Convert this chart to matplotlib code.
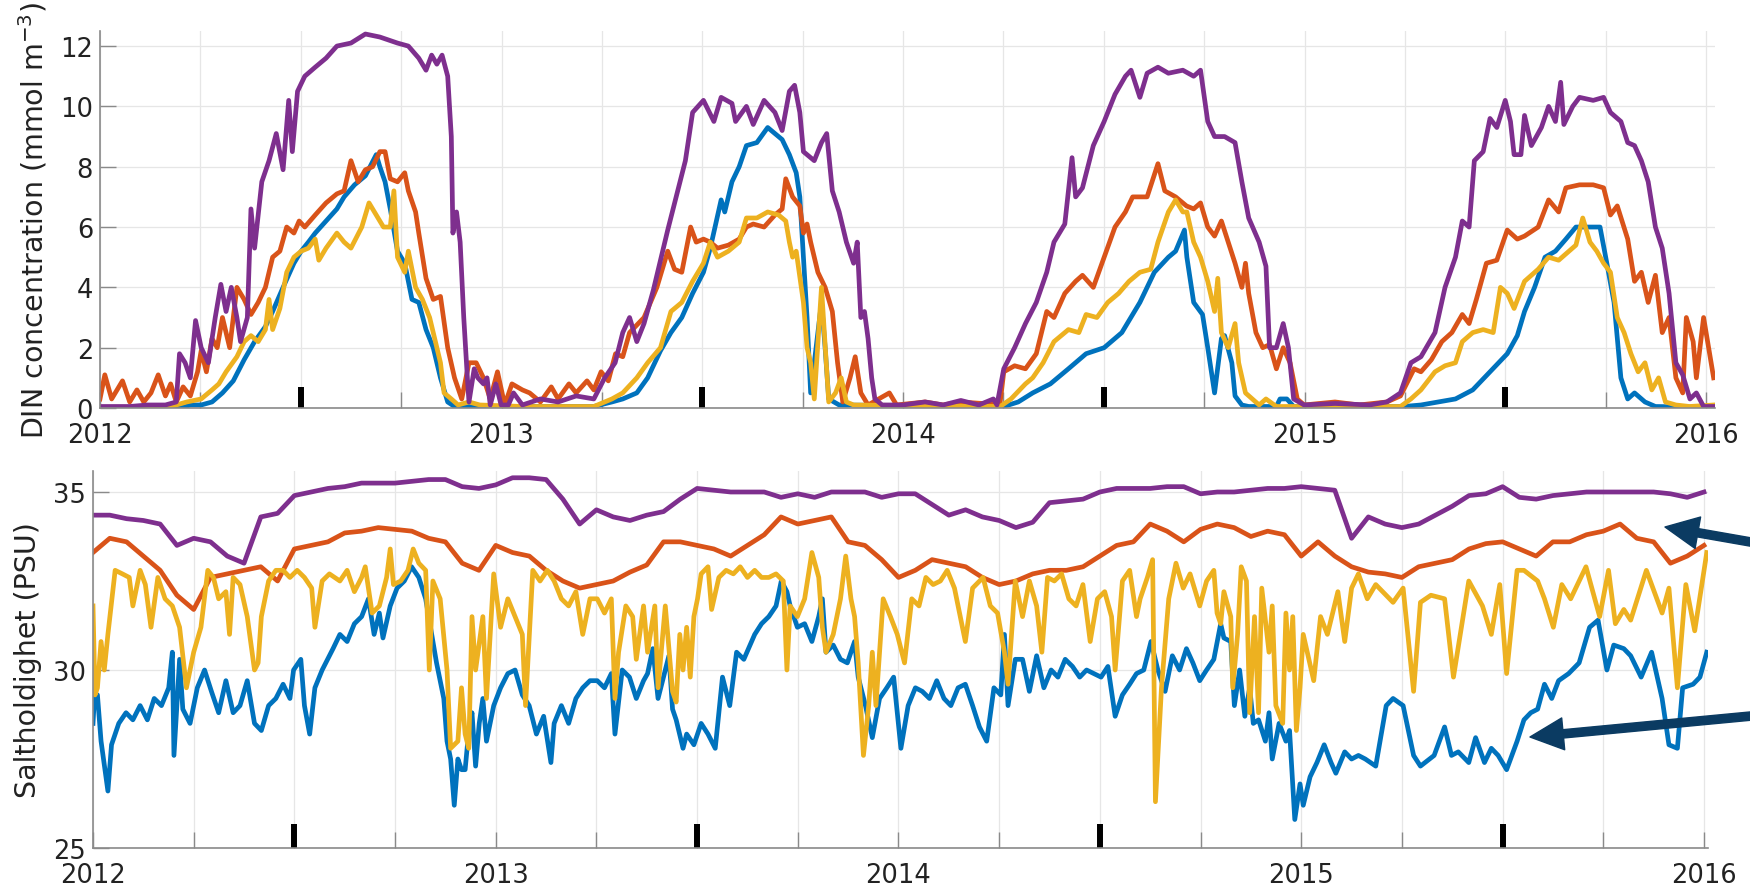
import numpy as np
import matplotlib
matplotlib.use("Agg")
import matplotlib.pyplot as plt

# ---- top panel: DIN concentration (mmol m-3), (decimal year, value) ----
din_blue = [
    (2012.000, 0.0), (2012.207, 0.02), (2012.225, 0.1), (2012.252, 0.1), (2012.279, 0.2),
    (2012.305, 0.5), (2012.332, 0.9), (2012.359, 1.6), (2012.385, 2.2), (2012.412, 2.7),
    (2012.430, 3.2), (2012.456, 4.0), (2012.483, 4.8), (2012.501, 5.2), (2012.519, 5.5),
    (2012.536, 5.8), (2012.563, 6.2), (2012.590, 6.6), (2012.608, 7.0), (2012.634, 7.4),
    (2012.661, 7.7), (2012.688, 8.4), (2012.697, 8.0), (2012.710, 7.5), (2012.723, 6.6),
    (2012.741, 5.2), (2012.759, 4.8), (2012.777, 3.6), (2012.794, 3.5), (2012.812, 2.6),
    (2012.830, 2.0), (2012.848, 1.0), (2012.866, 0.2), (2012.883, 0.05), (2013.230, 0.05),
    (2013.275, 0.2), (2013.302, 0.3), (2013.337, 0.5), (2013.364, 1.0), (2013.396, 1.9),
    (2013.422, 2.5), (2013.449, 3.0), (2013.476, 3.8), (2013.503, 4.5), (2013.520, 5.3),
    (2013.547, 6.9), (2013.556, 6.5), (2013.574, 7.5), (2013.592, 8.0), (2013.610, 8.7),
    (2013.636, 8.8), (2013.663, 9.3), (2013.681, 9.1), (2013.699, 8.9), (2013.717, 8.4),
    (2013.734, 7.8), (2013.743, 7.0), (2013.752, 5.0), (2013.761, 3.0), (2013.770, 0.5),
    (2013.788, 2.5), (2013.797, 3.5), (2013.806, 2.0), (2013.815, 0.3), (2013.841, 0.1),
    (2014.251, 0.05), (2014.287, 0.2), (2014.323, 0.5), (2014.367, 0.8), (2014.412, 1.3),
    (2014.456, 1.8), (2014.501, 2.0), (2014.545, 2.5), (2014.590, 3.5), (2014.626, 4.5),
    (2014.661, 5.0), (2014.679, 5.2), (2014.701, 5.9), (2014.707, 5.0), (2014.724, 3.5),
    (2014.746, 3.1), (2014.759, 2.0), (2014.776, 0.5), (2014.793, 2.3), (2014.801, 2.4),
    (2014.819, 1.5), (2014.827, 0.4), (2014.844, 0.1), (2014.861, 0.05), (2014.930, 0.05),
    (2014.939, 0.3), (2014.956, 0.3), (2014.973, 0.05), (2015.247, 0.05), (2015.290, 0.1),
    (2015.333, 0.2), (2015.376, 0.3), (2015.419, 0.6), (2015.462, 1.2), (2015.505, 1.8),
    (2015.530, 2.4), (2015.548, 3.2), (2015.573, 4.0), (2015.599, 5.0), (2015.625, 5.2),
    (2015.651, 5.6), (2015.676, 6.0), (2015.702, 6.0), (2015.736, 6.0), (2015.753, 4.8),
    (2015.771, 3.5), (2015.788, 1.0), (2015.805, 0.3), (2015.822, 0.5), (2015.848, 0.2),
    (2015.874, 0.05), (2016.019, 0.02)]
din_orange = [
    (2012.000, 0.3), (2012.012, 1.1), (2012.029, 0.3), (2012.056, 0.9), (2012.074, 0.2),
    (2012.092, 0.6), (2012.109, 0.2), (2012.127, 0.5), (2012.145, 1.1), (2012.163, 0.4),
    (2012.176, 0.8), (2012.190, 0.2), (2012.207, 0.7), (2012.225, 0.4), (2012.243, 1.2),
    (2012.252, 1.9), (2012.265, 1.2), (2012.279, 2.3), (2012.292, 2.0), (2012.305, 3.0),
    (2012.323, 2.0), (2012.341, 4.0), (2012.359, 3.6), (2012.376, 3.1), (2012.394, 3.5),
    (2012.412, 4.0), (2012.430, 5.0), (2012.448, 5.2), (2012.465, 6.0), (2012.483, 5.8),
    (2012.496, 6.2), (2012.510, 6.0), (2012.536, 6.4), (2012.563, 6.8), (2012.590, 7.1),
    (2012.608, 7.2), (2012.625, 8.2), (2012.643, 7.5), (2012.661, 7.9), (2012.679, 8.0),
    (2012.697, 8.5), (2012.710, 8.5), (2012.723, 7.6), (2012.741, 7.5), (2012.759, 7.8),
    (2012.768, 7.2), (2012.786, 6.5), (2012.794, 5.8), (2012.812, 4.3), (2012.830, 3.6),
    (2012.848, 3.7), (2012.866, 2.0), (2012.883, 1.0), (2012.901, 0.3), (2012.919, 1.5),
    (2012.937, 1.5), (2012.955, 1.0), (2012.972, 0.3), (2012.990, 1.2), (2013.008, 0.1),
    (2013.026, 0.8), (2013.052, 0.6), (2013.070, 0.5), (2013.097, 0.2), (2013.124, 0.7),
    (2013.141, 0.3), (2013.168, 0.8), (2013.186, 0.5), (2013.213, 0.9), (2013.230, 0.6),
    (2013.248, 1.2), (2013.266, 0.9), (2013.284, 1.8), (2013.302, 1.7), (2013.319, 2.5),
    (2013.355, 3.0), (2013.387, 4.0), (2013.414, 5.2), (2013.431, 4.6), (2013.449, 4.5),
    (2013.471, 6.0), (2013.485, 5.5), (2013.503, 5.6), (2013.520, 5.5), (2013.538, 5.3),
    (2013.565, 5.4), (2013.592, 5.6), (2013.610, 6.0), (2013.627, 6.1), (2013.654, 6.0),
    (2013.681, 6.4), (2013.699, 6.6), (2013.708, 7.6), (2013.725, 7.0), (2013.743, 6.7),
    (2013.752, 5.8), (2013.761, 6.1), (2013.770, 5.5), (2013.788, 4.5), (2013.806, 4.0),
    (2013.824, 3.2), (2013.837, 1.5), (2013.850, 0.2), (2013.868, 1.0), (2013.881, 1.7),
    (2013.895, 0.5), (2013.913, 0.1), (2013.966, 0.5), (2013.984, 0.1), (2014.055, 0.2),
    (2014.100, 0.1), (2014.144, 0.2), (2014.198, 0.15), (2014.242, 0.2), (2014.251, 1.2),
    (2014.278, 1.4), (2014.305, 1.3), (2014.332, 1.8), (2014.358, 3.2), (2014.376, 3.0),
    (2014.403, 3.8), (2014.430, 4.2), (2014.447, 4.4), (2014.474, 4.0), (2014.501, 5.0),
    (2014.528, 6.0), (2014.554, 6.5), (2014.572, 7.0), (2014.608, 7.0), (2014.635, 8.1),
    (2014.652, 7.2), (2014.679, 7.0), (2014.706, 6.7), (2014.724, 6.6), (2014.741, 6.8),
    (2014.759, 6.0), (2014.776, 5.7), (2014.793, 6.2), (2014.810, 5.5), (2014.827, 4.8),
    (2014.844, 4.0), (2014.853, 4.8), (2014.861, 3.8), (2014.879, 2.5), (2014.896, 2.0),
    (2014.913, 2.1), (2014.930, 1.3), (2014.947, 2.0), (2014.964, 1.5), (2014.982, 0.3),
    (2014.999, 0.1), (2015.076, 0.2), (2015.136, 0.1), (2015.205, 0.2), (2015.239, 0.4),
    (2015.273, 1.3), (2015.290, 1.2), (2015.316, 1.6), (2015.342, 2.2), (2015.367, 2.5),
    (2015.393, 3.1), (2015.410, 2.8), (2015.428, 3.6), (2015.453, 4.8), (2015.479, 4.9),
    (2015.505, 5.9), (2015.530, 5.6), (2015.548, 5.7), (2015.582, 6.0), (2015.608, 6.9),
    (2015.633, 6.5), (2015.651, 7.3), (2015.685, 7.4), (2015.719, 7.4), (2015.745, 7.3),
    (2015.762, 6.4), (2015.779, 6.7), (2015.805, 5.6), (2015.822, 4.2), (2015.839, 4.5),
    (2015.856, 3.5), (2015.874, 4.4), (2015.891, 2.5), (2015.908, 3.0), (2015.925, 1.0),
    (2015.942, 0.5), (2015.951, 3.0), (2015.968, 2.2), (2015.976, 1.0), (2015.994, 3.0),
    (2016.019, 1.0)]
din_yellow = [
    (2012.000, 0.02), (2012.163, 0.02), (2012.190, 0.1), (2012.216, 0.2), (2012.252, 0.3),
    (2012.279, 0.6), (2012.296, 0.8), (2012.314, 1.2), (2012.341, 1.7), (2012.359, 2.2),
    (2012.376, 2.4), (2012.394, 2.2), (2012.412, 2.6), (2012.421, 3.6), (2012.430, 2.6),
    (2012.448, 3.3), (2012.465, 4.5), (2012.483, 5.0), (2012.501, 5.2), (2012.519, 5.3),
    (2012.536, 5.6), (2012.545, 4.9), (2012.563, 5.3), (2012.590, 5.8), (2012.608, 5.5),
    (2012.625, 5.3), (2012.652, 6.0), (2012.670, 6.8), (2012.688, 6.4), (2012.706, 6.0),
    (2012.723, 6.0), (2012.732, 7.2), (2012.741, 5.0), (2012.759, 4.5), (2012.768, 5.2),
    (2012.786, 4.0), (2012.803, 3.6), (2012.821, 3.0), (2012.839, 2.0), (2012.848, 1.5),
    (2012.857, 0.5), (2012.875, 0.3), (2012.892, 0.1), (2012.919, 0.2), (2012.946, 0.1),
    (2013.052, 0.05), (2013.230, 0.05), (2013.275, 0.3), (2013.302, 0.5), (2013.337, 1.0),
    (2013.364, 1.5), (2013.396, 2.0), (2013.422, 3.2), (2013.449, 3.5), (2013.476, 4.2),
    (2013.503, 4.8), (2013.520, 5.5), (2013.538, 5.0), (2013.565, 5.2), (2013.592, 5.5),
    (2013.610, 6.3), (2013.636, 6.3), (2013.663, 6.5), (2013.690, 6.4), (2013.708, 6.2),
    (2013.717, 5.5), (2013.725, 5.0), (2013.734, 5.2), (2013.752, 3.5), (2013.761, 2.0),
    (2013.770, 1.5), (2013.779, 0.3), (2013.797, 4.0), (2013.815, 0.2), (2013.832, 0.5),
    (2013.846, 1.0), (2013.859, 0.2), (2013.877, 0.1), (2014.242, 0.05), (2014.269, 0.3),
    (2014.305, 0.8), (2014.323, 1.0), (2014.349, 1.5), (2014.376, 2.2), (2014.412, 2.6),
    (2014.438, 2.5), (2014.456, 3.1), (2014.483, 3.0), (2014.510, 3.5), (2014.537, 3.8),
    (2014.563, 4.2), (2014.590, 4.5), (2014.617, 4.6), (2014.635, 5.5), (2014.661, 6.5),
    (2014.679, 6.9), (2014.697, 6.5), (2014.707, 6.5), (2014.724, 5.5), (2014.741, 5.0),
    (2014.759, 4.2), (2014.776, 3.2), (2014.784, 4.3), (2014.793, 2.5), (2014.810, 2.0),
    (2014.827, 2.8), (2014.836, 1.5), (2014.853, 0.5), (2014.870, 0.3), (2014.887, 0.1),
    (2014.904, 0.3), (2014.930, 0.05), (2015.239, 0.05), (2015.265, 0.3), (2015.290, 0.6),
    (2015.325, 1.2), (2015.350, 1.4), (2015.376, 1.5), (2015.393, 2.2), (2015.419, 2.5),
    (2015.445, 2.6), (2015.470, 2.5), (2015.488, 4.0), (2015.505, 3.8), (2015.522, 3.3),
    (2015.548, 4.2), (2015.582, 4.6), (2015.608, 5.0), (2015.633, 4.9), (2015.659, 5.2),
    (2015.676, 5.4), (2015.693, 6.3), (2015.711, 5.5), (2015.728, 5.2), (2015.745, 4.8),
    (2015.762, 4.5), (2015.779, 3.0), (2015.796, 2.5), (2015.813, 1.8), (2015.831, 1.2),
    (2015.848, 1.5), (2015.865, 0.6), (2015.882, 1.0), (2015.899, 0.2), (2015.925, 0.1),
    (2015.959, 0.05), (2016.019, 0.1)]
din_purple = [
    (2012.000, 0.05), (2012.074, 0.05), (2012.118, 0.1), (2012.163, 0.1), (2012.190, 0.2),
    (2012.198, 1.8), (2012.212, 1.5), (2012.225, 1.0), (2012.238, 2.9), (2012.252, 2.0),
    (2012.270, 1.5), (2012.287, 3.0), (2012.301, 4.1), (2012.314, 3.2), (2012.327, 4.0),
    (2012.341, 3.0), (2012.350, 2.2), (2012.367, 3.0), (2012.376, 6.6), (2012.385, 5.3),
    (2012.403, 7.5), (2012.421, 8.2), (2012.439, 9.1), (2012.456, 7.9), (2012.470, 10.2),
    (2012.479, 8.5), (2012.492, 10.5), (2012.510, 11.0), (2012.536, 11.3), (2012.563, 11.6),
    (2012.590, 12.0), (2012.625, 12.1), (2012.661, 12.4), (2012.697, 12.3), (2012.741, 12.1),
    (2012.768, 12.0), (2012.794, 11.6), (2012.812, 11.2), (2012.826, 11.7), (2012.839, 11.4),
    (2012.852, 11.7), (2012.866, 11.0), (2012.875, 9.0), (2012.879, 5.8), (2012.888, 6.5),
    (2012.897, 5.5), (2012.906, 3.0), (2012.915, 1.0), (2012.919, 0.2), (2012.932, 1.3),
    (2012.941, 1.0), (2012.955, 0.8), (2012.964, 1.0), (2012.972, 0.1), (2012.986, 0.8),
    (2012.999, 0.1), (2013.017, 0.1), (2013.030, 0.5), (2013.052, 0.1), (2013.097, 0.3),
    (2013.141, 0.2), (2013.186, 0.4), (2013.230, 0.3), (2013.257, 1.0), (2013.283, 1.5),
    (2013.302, 2.5), (2013.319, 3.0), (2013.337, 2.2), (2013.355, 2.8), (2013.378, 3.9),
    (2013.414, 5.9), (2013.458, 8.2), (2013.476, 9.8), (2013.503, 10.2), (2013.529, 9.5),
    (2013.547, 10.3), (2013.574, 10.1), (2013.583, 9.5), (2013.610, 10.0), (2013.627, 9.4),
    (2013.654, 10.2), (2013.681, 9.8), (2013.699, 9.2), (2013.717, 10.5), (2013.730, 10.7),
    (2013.743, 9.8), (2013.752, 8.5), (2013.779, 8.2), (2013.797, 8.8), (2013.810, 9.1),
    (2013.824, 7.2), (2013.841, 6.5), (2013.859, 5.5), (2013.877, 4.8), (2013.886, 5.5),
    (2013.895, 3.0), (2013.904, 3.2), (2013.913, 2.3), (2013.922, 1.0), (2013.930, 0.3),
    (2013.948, 0.1), (2014.000, 0.1), (2014.055, 0.2), (2014.100, 0.1), (2014.144, 0.25),
    (2014.189, 0.1), (2014.225, 0.3), (2014.234, 0.1), (2014.251, 1.3), (2014.278, 2.0),
    (2014.305, 2.8), (2014.332, 3.5), (2014.358, 4.5), (2014.376, 5.5), (2014.403, 6.1),
    (2014.421, 8.3), (2014.430, 7.0), (2014.447, 7.3), (2014.474, 8.7), (2014.501, 9.5),
    (2014.528, 10.4), (2014.554, 11.0), (2014.568, 11.2), (2014.590, 10.3), (2014.608, 11.1),
    (2014.635, 11.3), (2014.661, 11.1), (2014.697, 11.2), (2014.724, 11.0), (2014.741, 11.2),
    (2014.759, 9.5), (2014.776, 9.0), (2014.801, 9.0), (2014.827, 8.8), (2014.844, 7.5),
    (2014.861, 6.3), (2014.887, 5.5), (2014.904, 4.7), (2014.913, 2.0), (2014.930, 2.0),
    (2014.947, 2.8), (2014.960, 2.0), (2014.973, 0.3), (2014.999, 0.1), (2015.076, 0.15),
    (2015.162, 0.1), (2015.205, 0.2), (2015.239, 0.5), (2015.265, 1.5), (2015.290, 1.7),
    (2015.325, 2.5), (2015.350, 4.0), (2015.376, 5.0), (2015.393, 6.2), (2015.410, 6.0),
    (2015.423, 8.2), (2015.445, 8.5), (2015.462, 9.6), (2015.479, 9.3), (2015.500, 10.2),
    (2015.513, 9.5), (2015.522, 8.4), (2015.539, 8.4), (2015.548, 9.7), (2015.565, 8.7),
    (2015.590, 9.3), (2015.608, 10.0), (2015.625, 9.5), (2015.638, 10.8), (2015.646, 9.4),
    (2015.668, 10.0), (2015.685, 10.3), (2015.719, 10.2), (2015.745, 10.3), (2015.762, 9.8),
    (2015.788, 9.5), (2015.805, 8.8), (2015.822, 8.7), (2015.839, 8.2), (2015.856, 7.5),
    (2015.874, 6.0), (2015.891, 5.3), (2015.908, 3.8), (2015.925, 1.5), (2015.942, 1.1),
    (2015.960, 0.3), (2015.976, 0.5), (2015.994, 0.05), (2016.019, 0.05)]

# ---- bottom panel: salinity (PSU) ----
# half-monthly points for the two smooth series
years = 2012 + np.arange(97) / 24
sal_orange = [33.3, 33.7, 33.6, 33.2, 32.8, 32.1, 31.7, 32.6, 32.7, 32.8, 32.9, 32.5,
              33.4, 33.5, 33.6, 33.85, 33.9, 34.0, 33.95, 33.9, 33.7, 33.6, 33.0, 32.8,
              33.5, 33.3, 33.2, 32.8, 32.5, 32.3, 32.4, 32.5, 32.75, 32.95, 33.6, 33.6,
              33.5, 33.4, 33.2, 33.5, 33.8, 34.3, 34.1, 34.2, 34.3, 33.6, 33.5, 33.1,
              32.6, 32.8, 33.1, 33.0, 32.9, 32.6, 32.4, 32.5, 32.7, 32.8, 32.8, 32.9,
              33.2, 33.5, 33.6, 34.1, 33.9, 33.6, 33.95, 34.1, 34.0, 33.75, 33.9, 33.8,
              33.2, 33.6, 33.2, 32.9, 32.75, 32.7, 32.6, 32.9, 33.0, 33.1, 33.4, 33.55,
              33.6, 33.4, 33.2, 33.6, 33.6, 33.8, 33.9, 34.1, 33.7, 33.6, 33.0, 33.2, 33.5]
sal_purple = [34.35, 34.35, 34.25, 34.2, 34.1, 33.5, 33.7, 33.6, 33.2, 33.0, 34.3, 34.4,
              34.9, 35.0, 35.1, 35.15, 35.25, 35.25, 35.25, 35.3, 35.35, 35.35, 35.15, 35.1,
              35.2, 35.4, 35.4, 35.35, 34.8, 34.1, 34.5, 34.3, 34.2, 34.35, 34.45, 34.8,
              35.1, 35.05, 35.0, 35.0, 35.0, 34.85, 34.95, 34.85, 35.0, 35.0, 35.0, 34.85,
              34.95, 34.95, 34.65, 34.35, 34.5, 34.3, 34.2, 34.0, 34.15, 34.7, 34.75, 34.8,
              35.0, 35.1, 35.1, 35.1, 35.15, 35.15, 34.95, 35.0, 35.0, 35.05, 35.1, 35.1,
              35.15, 35.1, 35.05, 33.7, 34.3, 34.1, 34.0, 34.1, 34.35, 34.6, 34.9, 34.95,
              35.15, 34.85, 34.8, 34.9, 34.95, 35.0, 35.0, 35.0, 35.0, 35.0, 34.95, 34.85, 35.0]

# the two noisy series have their own dates
sal_yellow_t = [
    2012.000, 2012.005, 2012.011, 2012.020, 2012.028, 2012.037, 2012.055, 2012.073,
    2012.090, 2012.099, 2012.117, 2012.130, 2012.144, 2012.161, 2012.179, 2012.197,
    2012.215, 2012.232, 2012.250, 2012.268, 2012.285, 2012.299, 2012.312, 2012.330,
    2012.339, 2012.348, 2012.365, 2012.383, 2012.401, 2012.410, 2012.418, 2012.436,
    2012.454, 2012.472, 2012.489, 2012.507, 2012.525, 2012.543, 2012.551, 2012.569,
    2012.587, 2012.613, 2012.631, 2012.649, 2012.667, 2012.676, 2012.693, 2012.711,
    2012.729, 2012.738, 2012.746, 2012.764, 2012.782, 2012.795, 2012.809, 2012.826,
    2012.835, 2012.844, 2012.862, 2012.879, 2012.888, 2012.906, 2012.915, 2012.924,
    2012.933, 2012.941, 2012.950, 2012.968, 2012.977, 2012.995, 2013.012, 2013.030,
    2013.048, 2013.066, 2013.074, 2013.092, 2013.110, 2013.128, 2013.145, 2013.163,
    2013.181, 2013.199, 2013.216, 2013.234, 2013.252, 2013.270, 2013.287, 2013.296,
    2013.305, 2013.323, 2013.340, 2013.349, 2013.367,
    2013.377, 2013.395, 2013.403, 2013.421, 2013.439, 2013.448, 2013.457, 2013.465,
    2013.474, 2013.483, 2013.492, 2013.501, 2013.510, 2013.527, 2013.536, 2013.554,
    2013.572, 2013.590, 2013.607, 2013.625, 2013.643, 2013.660, 2013.678, 2013.696,
    2013.714, 2013.723, 2013.731, 2013.749, 2013.767, 2013.785, 2013.802, 2013.811,
    2013.820, 2013.838, 2013.856, 2013.869, 2013.882, 2013.891, 2013.900, 2013.913,
    2013.926, 2013.935, 2013.944, 2013.962, 2013.980, 2013.997, 2014.015, 2014.033,
    2014.051, 2014.068, 2014.086, 2014.104, 2014.121, 2014.139, 2014.157, 2014.166,
    2014.184, 2014.210, 2014.228, 2014.246, 2014.263, 2014.272, 2014.290, 2014.308,
    2014.325, 2014.343, 2014.356, 2014.370, 2014.387, 2014.405, 2014.423, 2014.441,
    2014.458, 2014.476, 2014.494, 2014.512, 2014.529, 2014.538, 2014.556, 2014.574,
    2014.591, 2014.600, 2014.618, 2014.631, 2014.638, 2014.653, 2014.671, 2014.689,
    2014.707, 2014.724,
    2014.748, 2014.765, 2014.783, 2014.791, 2014.800, 2014.808, 2014.825, 2014.830,
    2014.842, 2014.851, 2014.864, 2014.872, 2014.884, 2014.894, 2014.902, 2014.920,
    2014.928, 2014.937, 2014.954, 2014.962, 2014.971, 2014.979, 2014.988, 2014.997,
    2015.005, 2015.031, 2015.048, 2015.065, 2015.091, 2015.108, 2015.125, 2015.142,
    2015.164, 2015.185, 2015.211, 2015.228, 2015.253, 2015.279, 2015.296, 2015.322,
    2015.356, 2015.378, 2015.416, 2015.450, 2015.472, 2015.493, 2015.510, 2015.536,
    2015.553, 2015.587, 2015.604, 2015.626, 2015.647, 2015.669, 2015.707, 2015.741,
    2015.763, 2015.780, 2015.801, 2015.818, 2015.857, 2015.896, 2015.913, 2015.934,
    2015.955, 2015.977, 2016.007]
sal_yellow = [
    31.8, 29.3, 29.5, 30.8, 30.0, 31.0, 32.8, 32.7,
    32.6, 31.8, 32.8, 32.4, 31.2, 32.6, 32.0, 31.8,
    31.2, 29.5, 30.5, 31.2, 32.8, 32.6, 32.0, 32.2,
    31.0, 32.6, 32.4, 31.5, 30.0, 30.2, 31.5, 32.5,
    32.8, 32.8, 32.6, 32.8, 32.6, 32.3, 31.2, 32.5,
    32.7, 32.5, 32.8, 32.2, 32.6, 32.9, 31.6, 31.8,
    32.6, 33.4, 32.4, 32.5, 32.8, 33.4, 33.0, 32.8,
    30.0, 32.5, 32.0, 30.0, 27.8, 28.0, 29.5, 28.2,
    27.8, 31.5, 30.0, 31.5, 29.2, 32.7, 31.2, 32.0,
    31.5, 31.0, 29.0, 32.8, 32.5, 32.8, 32.5, 32.0,
    31.8, 32.2, 31.0, 32.0, 32.0, 31.6, 32.0, 29.2,
    30.5, 31.8, 31.5, 30.3, 31.8,
    30.5, 31.8, 29.5, 31.8, 29.4, 29.1, 31.0, 30.0,
    31.2, 29.8, 31.5, 32.0, 32.7, 32.9, 31.7, 32.6,
    32.8, 32.7, 32.9, 32.6, 32.8, 32.6, 32.6, 32.7,
    32.5, 30.0, 31.8, 31.5, 32.0, 33.3, 32.6, 31.2,
    30.5, 31.0, 32.0, 33.2, 32.0, 31.5, 30.2, 27.6,
    29.0, 30.5, 29.0, 32.0, 31.5, 31.0, 30.2, 32.0,
    31.8, 32.6, 32.4, 32.5, 32.8, 32.3, 31.3, 30.8,
    32.3, 32.6, 31.8, 31.6, 30.5, 29.6, 32.5, 31.5,
    32.5, 31.8, 30.5, 32.6, 32.5, 32.7, 32.0, 31.8,
    32.4, 30.8, 32.0, 32.2, 31.5, 30.0, 32.5, 32.8,
    31.5, 32.0, 32.6, 33.1, 26.3, 29.5, 32.0, 33.0,
    32.3, 32.7,
    31.8, 32.5, 32.8, 31.6, 31.3, 32.2, 31.5, 29.5,
    31.0, 32.9, 32.5, 28.8, 31.5, 28.8, 32.3, 30.5,
    31.8, 29.0, 28.5, 31.6, 30.0, 31.5, 28.3, 29.5,
    31.0, 29.7, 31.5, 31.0, 32.2, 30.8, 32.3, 32.7,
    32.0, 32.4, 32.1, 31.9, 32.3, 29.4, 31.9, 32.1,
    32.0, 29.8, 32.5, 31.8, 31.0, 32.4, 29.9, 32.8,
    32.8, 32.5, 32.0, 31.2, 32.4, 32.0, 32.9, 31.5,
    32.8, 31.3, 31.7, 31.4, 32.8, 31.6, 32.3, 29.5,
    32.4, 31.1, 33.3]

sal_blue_t = [
    2012.000, 2012.004, 2012.011, 2012.020, 2012.037, 2012.046, 2012.064, 2012.082,
    2012.099, 2012.117, 2012.135, 2012.152, 2012.170, 2012.188, 2012.197, 2012.201,
    2012.215, 2012.223, 2012.241, 2012.259, 2012.277, 2012.294, 2012.312, 2012.330,
    2012.348, 2012.365, 2012.383, 2012.401, 2012.418, 2012.436, 2012.454, 2012.472,
    2012.489, 2012.498, 2012.516, 2012.525, 2012.538, 2012.551, 2012.569, 2012.596,
    2012.613, 2012.631, 2012.649, 2012.667, 2012.684, 2012.698, 2012.711, 2012.720,
    2012.738, 2012.755, 2012.773, 2012.791, 2012.809, 2012.826, 2012.853, 2012.871,
    2012.879, 2012.888, 2012.897, 2012.906, 2012.915, 2012.924, 2012.933, 2012.941,
    2012.950, 2012.959, 2012.968, 2012.977, 2012.995, 2013.012, 2013.030, 2013.048,
    2013.066, 2013.083, 2013.101, 2013.119, 2013.137, 2013.145, 2013.163, 2013.181,
    2013.199, 2013.216, 2013.234, 2013.252, 2013.270, 2013.287, 2013.296, 2013.314,
    2013.332, 2013.349, 2013.367,
    2013.377, 2013.390, 2013.403, 2013.430, 2013.439, 2013.448, 2013.465, 2013.474,
    2013.492, 2013.510, 2013.527, 2013.545, 2013.563, 2013.581, 2013.598, 2013.616,
    2013.643, 2013.660, 2013.678, 2013.696, 2013.709, 2013.723, 2013.731, 2013.749,
    2013.767, 2013.785, 2013.802, 2013.811, 2013.820, 2013.838, 2013.856, 2013.873,
    2013.891, 2013.900, 2013.918, 2013.935, 2013.953, 2013.971, 2013.988, 2014.006,
    2014.024, 2014.042, 2014.059, 2014.077, 2014.095, 2014.113, 2014.130, 2014.148,
    2014.166, 2014.184, 2014.201, 2014.219, 2014.237, 2014.254, 2014.263, 2014.272,
    2014.290, 2014.308, 2014.325, 2014.343, 2014.361, 2014.379, 2014.396, 2014.414,
    2014.432, 2014.450, 2014.467, 2014.485, 2014.503, 2014.520, 2014.538, 2014.556,
    2014.574, 2014.591, 2014.609, 2014.627, 2014.644, 2014.662, 2014.680, 2014.698,
    2014.715,
    2014.731, 2014.748, 2014.765, 2014.783, 2014.800, 2014.808, 2014.825, 2014.834,
    2014.847, 2014.860, 2014.872, 2014.881, 2014.894, 2014.911, 2014.920, 2014.928,
    2014.945, 2014.962, 2014.971, 2014.984, 2014.997, 2015.005, 2015.022, 2015.039,
    2015.057, 2015.074, 2015.086, 2015.108, 2015.125, 2015.142, 2015.159, 2015.185,
    2015.211, 2015.228, 2015.253, 2015.279, 2015.296, 2015.330, 2015.356, 2015.373,
    2015.390, 2015.416, 2015.433, 2015.455, 2015.472, 2015.489, 2015.510, 2015.536,
    2015.553, 2015.570, 2015.587, 2015.604, 2015.622, 2015.639, 2015.664, 2015.690,
    2015.716, 2015.737, 2015.759, 2015.776, 2015.801, 2015.818, 2015.844, 2015.870,
    2015.896, 2015.913, 2015.934, 2015.947, 2015.973, 2015.990, 2016.007]
sal_blue = [
    28.5, 29.3, 29.3, 28.0, 26.6, 27.9, 28.5, 28.8,
    28.6, 29.0, 28.6, 29.2, 29.0, 29.5, 30.5, 27.6,
    30.3, 28.9, 28.5, 29.5, 30.0, 29.4, 28.8, 29.7,
    28.8, 29.0, 29.7, 28.5, 28.3, 29.0, 29.2, 29.6,
    29.2, 30.0, 30.3, 29.0, 28.2, 29.5, 30.0, 30.6,
    31.0, 30.8, 31.3, 31.5, 32.0, 31.0, 31.6, 30.9,
    31.8, 32.3, 32.5, 32.9, 32.6, 32.0, 30.2, 29.2,
    28.0, 27.5, 26.2, 27.5, 27.2, 27.2, 28.3, 28.8,
    27.3, 28.5, 29.2, 28.0, 29.0, 29.5, 29.9, 30.0,
    29.3, 29.0, 28.2, 28.7, 27.4, 28.5, 29.0, 28.5,
    29.2, 29.5, 29.7, 29.7, 29.5, 29.9, 28.2, 30.0,
    29.8, 29.2, 29.7,
    29.9, 30.6, 29.2, 30.4, 28.9, 28.6, 27.8, 28.2,
    27.9, 28.5, 28.2, 27.8, 29.8, 29.0, 30.5, 30.3,
    31.0, 31.3, 31.5, 31.8, 32.5, 32.2, 31.8, 31.2,
    31.3, 30.8, 31.5, 32.0, 30.5, 30.7, 30.3, 30.2,
    30.8, 29.8, 29.0, 28.1, 29.2, 29.5, 29.8, 27.8,
    29.0, 29.5, 29.4, 29.2, 29.7, 29.2, 29.0, 29.5,
    29.6, 29.0, 28.4, 28.0, 29.5, 29.3, 31.0, 29.0,
    30.3, 30.3, 29.4, 30.4, 29.5, 30.0, 29.8, 30.3,
    30.1, 29.8, 30.0, 29.9, 29.8, 30.1, 28.7, 29.3,
    29.6, 29.9, 30.0, 30.8, 30.0, 29.4, 30.4, 30.0,
    30.6,
    30.2, 29.7, 30.0, 30.3, 31.3, 30.9, 30.8, 29.0,
    30.0, 28.7, 29.5, 28.5, 28.6, 28.0, 28.8, 27.5,
    28.5, 28.0, 28.3, 25.8, 26.8, 26.2, 27.0, 27.4,
    27.9, 27.4, 27.1, 27.7, 27.5, 27.6, 27.5, 27.3,
    29.0, 29.2, 29.0, 27.6, 27.3, 27.6, 28.4, 27.6,
    27.7, 27.4, 28.1, 27.4, 27.8, 27.6, 27.2, 28.0,
    28.6, 28.8, 28.9, 29.6, 29.2, 29.7, 29.9, 30.2,
    31.2, 31.4, 30.0, 30.7, 30.6, 30.4, 29.8, 30.5,
    29.2, 27.9, 27.8, 29.5, 29.6, 29.8, 30.5]

# black sampling marks at mid-year
marks = [2012.5, 2013.5, 2014.5, 2015.5]

quarters = np.arange(2012, 2016.01, 0.25)
qlabels = [str(int(q)) if q == int(q) else "" for q in quarters]

c_blue, c_orange, c_yellow, c_purple = "#0072BD", "#D95319", "#EDB120", "#7E2F8E"
lw = 3.4

plt.rcParams["font.family"] = ["DejaVu Sans"]

fig = plt.figure(figsize=(17.5, 8.87), dpi=100)
ax1 = fig.add_axes([100 / 1750, 1 - 409 / 887, 1615 / 1750, 377 / 887])
ax2 = fig.add_axes([93 / 1750, 1 - 849 / 887, 1615 / 1750, 377 / 887])


def style(ax):
    ax.set_xticks(quarters)
    ax.set_xticklabels(qlabels)
    ax.grid(True, color="#e6e6e6", lw=0.9)
    ax.set_axisbelow(True)
    for s in ["top", "right"]:
        ax.spines[s].set_visible(False)
    for s in ["left", "bottom"]:
        ax.spines[s].set_color("#8a8a8a")
        ax.spines[s].set_linewidth(1.2)
    ax.tick_params(direction="in", length=11.5, width=1.0, color="#8a8a8a",
                   labelsize=18.5, labelcolor="#222222")
    ax.tick_params(axis="x", pad=10)
    ax.tick_params(axis="y", pad=5)


# top panel
for series, col in [(din_blue, c_blue), (din_orange, c_orange),
                    (din_yellow, c_yellow), (din_purple, c_purple)]:
    t, v = zip(*series)
    ax1.plot(t, v, color=col, lw=lw)
ax1.vlines(marks, 0, 0.7, color="black", lw=4.3)
ax1.set_xlim(2012, 2016.0224)
ax1.set_ylim(0, 12.5)
ax1.set_yticks(np.arange(0, 13, 2))
style(ax1)
ax1.set_ylabel("DIN concentration (mmol m$^{-3}$)", fontsize=20.5, color="#222222")
ax1.yaxis.set_label_coords(-0.031, 0.5)

# bottom panel
ax2.plot(sal_blue_t, sal_blue, color=c_blue, lw=lw)
ax2.plot(years, sal_orange, color=c_orange, lw=lw)
ax2.plot(sal_yellow_t, sal_yellow, color=c_yellow, lw=lw)
ax2.plot(years, sal_purple, color=c_purple, lw=lw)
ax2.vlines(marks, 25, 25.68, color="black", lw=4.3)
ax2.set_xlim(2012, 2016.01)
ax2.set_ylim(25, 35.59)
ax2.set_yticks([25, 30, 35])
style(ax2)
ax2.set_ylabel("Saltholdighet (PSU)", fontsize=20.5, color="#222222")
ax2.yaxis.set_label_coords(-0.0316, 0.5)

# arrows coming in from the right edge
arrow = dict(arrowstyle="simple,head_length=1.2,head_width=1.15,tail_width=0.3",
             mutation_scale=20, color="#0b3b62", shrinkA=0, shrinkB=0)
ax2.annotate("", xy=(1665, 887 - 528), xytext=(1762, 887 - 545),
             xycoords="figure pixels", textcoords="figure pixels",
             arrowprops=arrow, annotation_clip=False)
ax2.annotate("", xy=(1530, 887 - 738), xytext=(1762, 887 - 716),
             xycoords="figure pixels", textcoords="figure pixels",
             arrowprops=arrow, annotation_clip=False)

fig.savefig("out.png", dpi=100)
